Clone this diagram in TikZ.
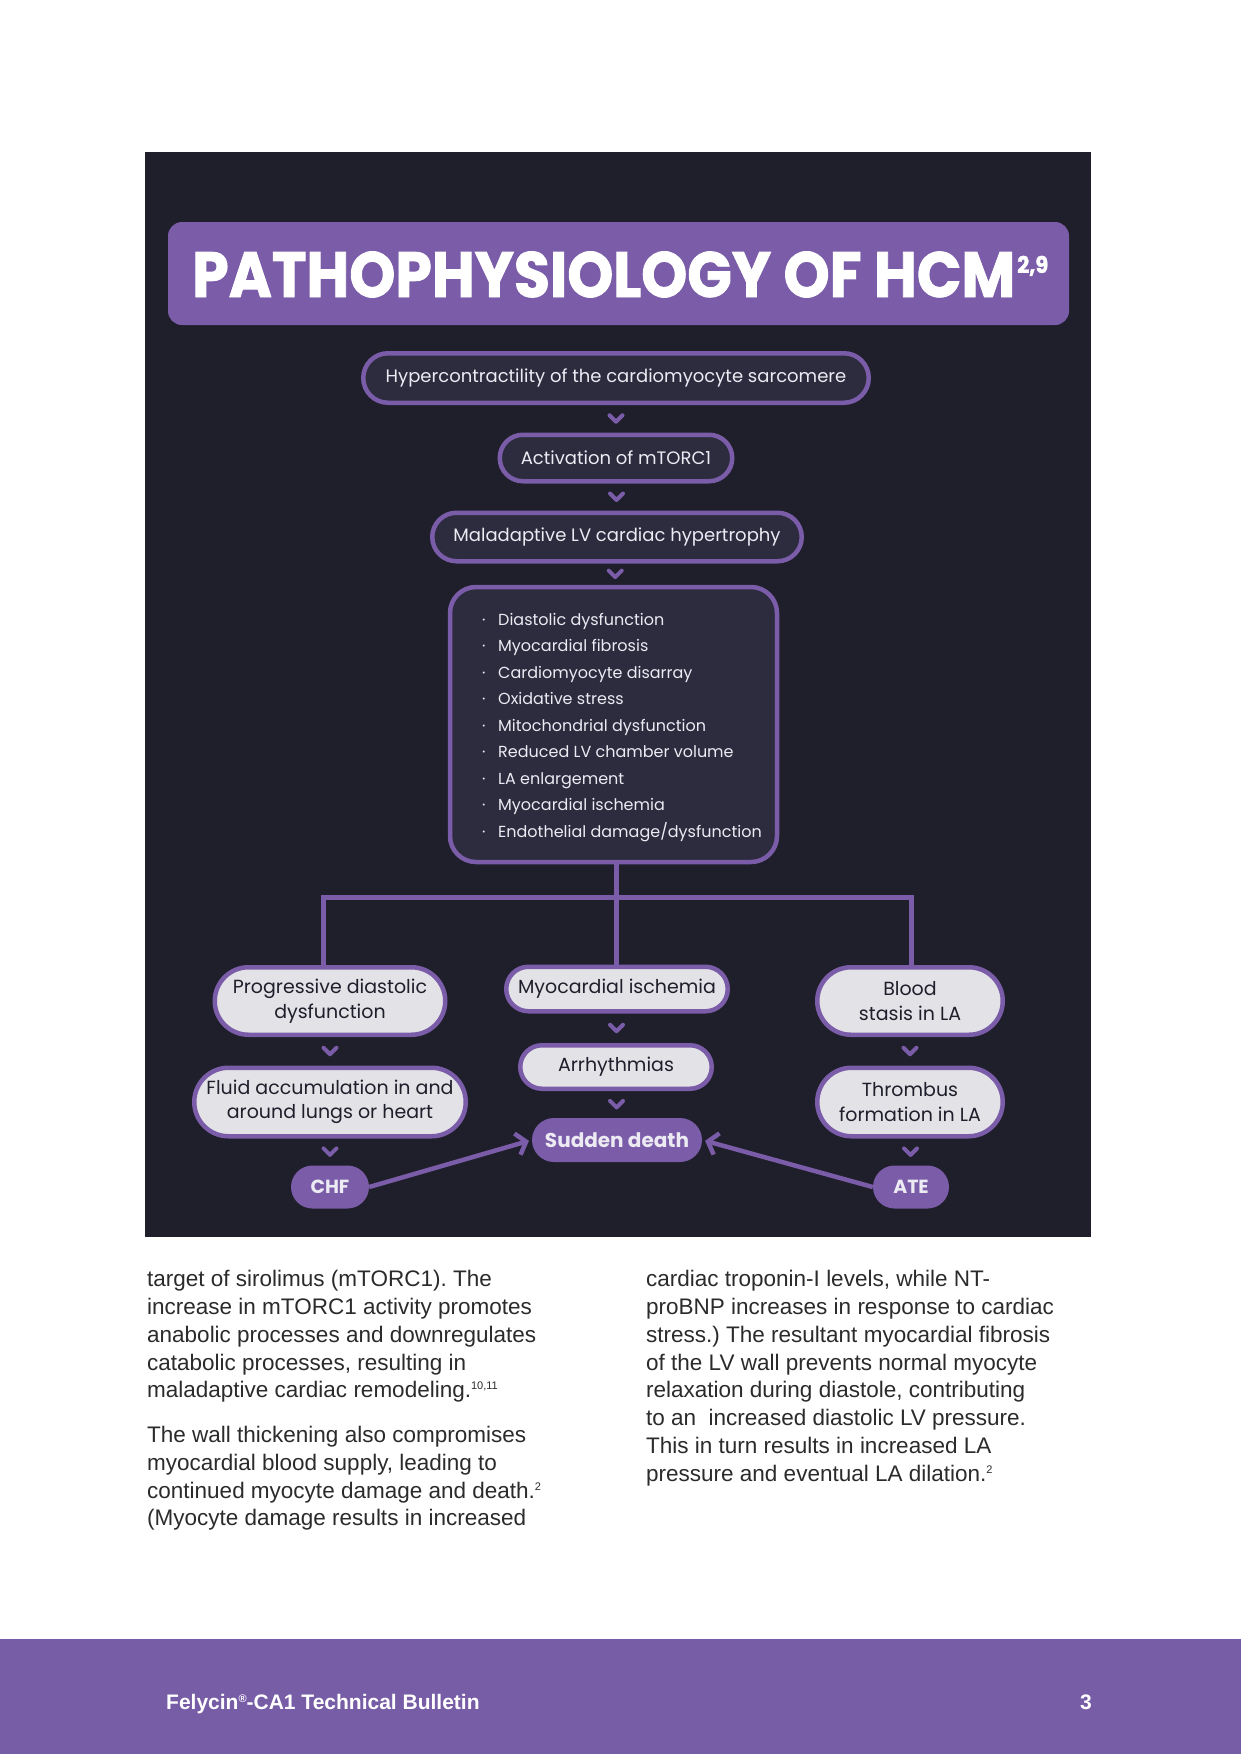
\documentclass[tikz,border=0pt]{standalone}
\usepackage{fontspec}
\setmainfont{Liberation Sans}
\newfontfamily\boxfont{Poppins}
\newfontfamily\titlefont{Poppins}[FakeStretch=0.915,BoldFeatures={FakeBold=1.4}]
\usetikzlibrary{shapes.misc,arrows.meta,calc}
\definecolor{panelbg}{HTML}{1E1F2B}
\definecolor{boxbg}{HTML}{2D2C3F}
\definecolor{hcmpurple}{HTML}{7A5CA8}
\definecolor{lightbg}{HTML}{E3E2E7}
\definecolor{lighttext}{HTML}{ECEAF2}
\definecolor{darktext}{HTML}{1F1F2B}
\definecolor{bodytext}{HTML}{2B2B2B}
\definecolor{footbg}{HTML}{775CA6}
\frenchspacing
\begin{document}
\begin{tikzpicture}[x=1pt,y=-1pt,
  pill/.style={rounded rectangle, draw=hcmpurple, line width=4.5pt, inner sep=0pt, align=center},
  darkpill/.style={pill, fill=boxbg, text=lighttext, font=\boxfont\fontsize{18}{22}\selectfont},
  lightpill/.style={pill, fill=lightbg, text=darktext, font=\boxfont\fontsize{19}{24.5}\selectfont},
  endpill/.style={rounded rectangle, fill=hcmpurple, draw=none, text=lighttext, inner sep=0pt, font=\boxfont\bfseries\fontsize{19}{22}\selectfont},
  link/.style={draw=hcmpurple, line width=5pt},
  arrowlink/.style={draw=hcmpurple, line width=4.5pt, shorten >=3pt, -{Straight Barb[length=9pt,width=22pt]}},
  listitem/.style={anchor=base west, inner sep=0pt, text=lighttext, font=\boxfont\fontsize{16}{20}\selectfont},
  bodyline/.style={anchor=base west, inner sep=0pt, text=bodytext, font=\fontsize{22.5}{28}\selectfont},
  vmark/.pic={\draw[hcmpurple, line width=4pt, line cap=round, line join=round] (-6.5,-3.5) -- (0,3) -- (6.5,-3.5);}
]
\path[use as bounding box, fill=white] (0,0) rectangle (1241,1754);
% dark panel
\fill[panelbg] (145,152) rectangle (1091,1237);
% title
\node[fill=hcmpurple, rounded corners=14pt, minimum width=901pt, minimum height=103pt, inner sep=0pt] (titlebar) at (618.5,273.5) {};
\node[anchor=base west, inner sep=0pt, text=white, font=\titlefont\bfseries\fontsize{64}{64}\selectfont] (title) at (192,297)
  {PATHOPHYSIOLOGY OF HCM\kern2pt\raisebox{24pt}{\fontsize{23}{23}\selectfont 2,9}};
% main chain
\node[darkpill, minimum width=505.5pt, minimum height=49.5pt] (b1) at (616,378) {Hypercontractility of the cardiomyocyte sarcomere};
\node[darkpill, minimum width=232.5pt, minimum height=46.5pt] (b2) at (616,458) {Activation of mTORC1};
\node[darkpill, minimum width=369.5pt, minimum height=48.5pt] (b3) at (617,537) {Maladaptive LV cardiac hypertrophy};
\node[fill=boxbg, draw=hcmpurple, line width=4.5pt, rounded corners=26pt, minimum width=327pt, minimum height=275pt, inner sep=0pt] (effects) at (613.5,724.5) {};
\foreach \t [count=\i from 0] in {Diastolic dysfunction, Myocardial fibrosis, Cardiomyocyte disarray, Oxidative stress, Mitochondrial dysfunction, Reduced LV chamber volume, LA enlargement, Myocardial ischemia, Endothelial damage/dysfunction}{
  \node[listitem] (dot\i) at (482,{625+26.5*\i}) {·};
  \node[listitem] (item\i) at (498,{625+26.5*\i}) {\t};
}
\pic at ($(b1.south)!0.5!(b2.north)$) {vmark};
\pic at ($(b2.south)!0.5!(b3.north)$) {vmark};
\pic at ($(b3.south)!0.5!(effects.north)$) {vmark};
% lower boxes
\node[lightpill, minimum width=230.5pt, minimum height=67.5pt] (prog) at (330,1001) {Progressive diastolic\\dysfunction};
\node[lightpill, minimum width=221.5pt, minimum height=44.5pt] (myo) at (617,989) {Myocardial ischemia};
\node[lightpill, minimum width=185.5pt, minimum height=67.5pt] (blood) at (910,1001) {Blood\\stasis in LA};
\node[lightpill, minimum width=271.5pt, minimum height=68.5pt] (fluid) at (330,1102) {Fluid accumulation in and\\around lungs or heart};
\node[lightpill, minimum width=191.5pt, minimum height=43.5pt] (arrh) at (616,1067) {Arrhythmias};
\node[lightpill, minimum width=185.5pt, minimum height=68.5pt] (thromb) at (910,1102) {Thrombus\\formation in LA};
\node[endpill, minimum width=170pt, minimum height=44pt, font=\boxfont\bfseries\fontsize{20}{22}\selectfont] (sudden) at (617,1140) {Sudden death};
\node[endpill, minimum width=78pt, minimum height=43pt] (chf) at (330,1187) {CHF};
\node[endpill, minimum width=76pt, minimum height=43pt] (ate) at (911,1187) {ATE};
% tree connector
\coordinate (hub) at (616,897);
\coordinate (jl) at (323,897);
\coordinate (jr) at (911,897);
\draw[link] (effects.south -| hub) -- (hub);
\draw[link, line cap=rect] (jl) -- (jr);
\draw[link] (jl) -- (jl |- prog.north);
\draw[link] (hub) -- (hub |- myo.north);
\draw[link] (jr) -- (jr |- blood.north);
% chevrons lower
\pic at ($(prog.south)!0.5!(fluid.north)$) {vmark};
\pic at ($(fluid.south)!0.5!(chf.north)$) {vmark};
\pic at ($(myo.south)!0.5!(arrh.north)$) {vmark};
\pic at ($(arrh.south)!0.5!(sudden.north)$) {vmark};
\pic at ($(blood.south)!0.5!(thromb.north)$) {vmark};
\pic at ($(thromb.south)!0.5!(ate.north)$) {vmark};
% arrows to sudden death
\draw[arrowlink] (chf.east) -- (sudden.west);
\draw[arrowlink] (ate.west) -- (sudden.east);
% body text
\node[bodyline] (l1) at (147,1286) {target of sirolimus (mTORC1). The};
\node[bodyline] (l2) at (147,1314) {increase in mTORC1 activity promotes};
\node[bodyline] (l3) at (147,1342) {anabolic processes and downregulates};
\node[bodyline] (l4) at (147,1370) {catabolic processes, resulting in};
\node[bodyline] (l5) at (147,1397) {maladaptive cardiac remodeling.\raisebox{8pt}{\fontsize{11}{11}\selectfont 10,11}};
\node[bodyline] (l6) at (147,1442) {The wall thickening also compromises};
\node[bodyline] (l7) at (147,1470) {myocardial blood supply, leading to};
\node[bodyline] (l8) at (147,1498) {continued myocyte damage and death.\raisebox{8pt}{\fontsize{11}{11}\selectfont 2}};
\node[bodyline] (l9) at (147,1525) {(Myocyte damage results in increased};
\node[bodyline] (r1) at (646,1286) {cardiac troponin-I levels, while NT-};
\node[bodyline] (r2) at (646,1314) {proBNP increases in response to cardiac};
\node[bodyline] (r3) at (646,1342) {stress.) The resultant myocardial fibrosis};
\node[bodyline] (r4) at (646,1370) {of the LV wall prevents normal myocyte};
\node[bodyline] (r5) at (646,1397) {relaxation during diastole, contributing};
\node[bodyline] (r6) at (646,1425) {to an\ \ increased diastolic LV pressure.};
\node[bodyline] (r7) at (646,1453) {This in turn results in increased LA};
\node[bodyline] (r8) at (646,1481) {pressure and eventual LA dilation.\raisebox{8pt}{\fontsize{11}{11}\selectfont 2}};
% footer
\fill[footbg] (0,1639) rectangle (1241,1754);
\node[anchor=base west, inner sep=0pt, text=white, font=\bfseries\fontsize{21}{21}\selectfont] (foot) at (166,1709) {Felycin\raisebox{7pt}{\fontsize{11}{11}\selectfont ®}-CA1 Technical Bulletin};
\node[anchor=base west, inner sep=0pt, text=white, font=\bfseries\fontsize{21}{21}\selectfont] (page) at (1080,1709) {3};
\end{tikzpicture}
\end{document}
